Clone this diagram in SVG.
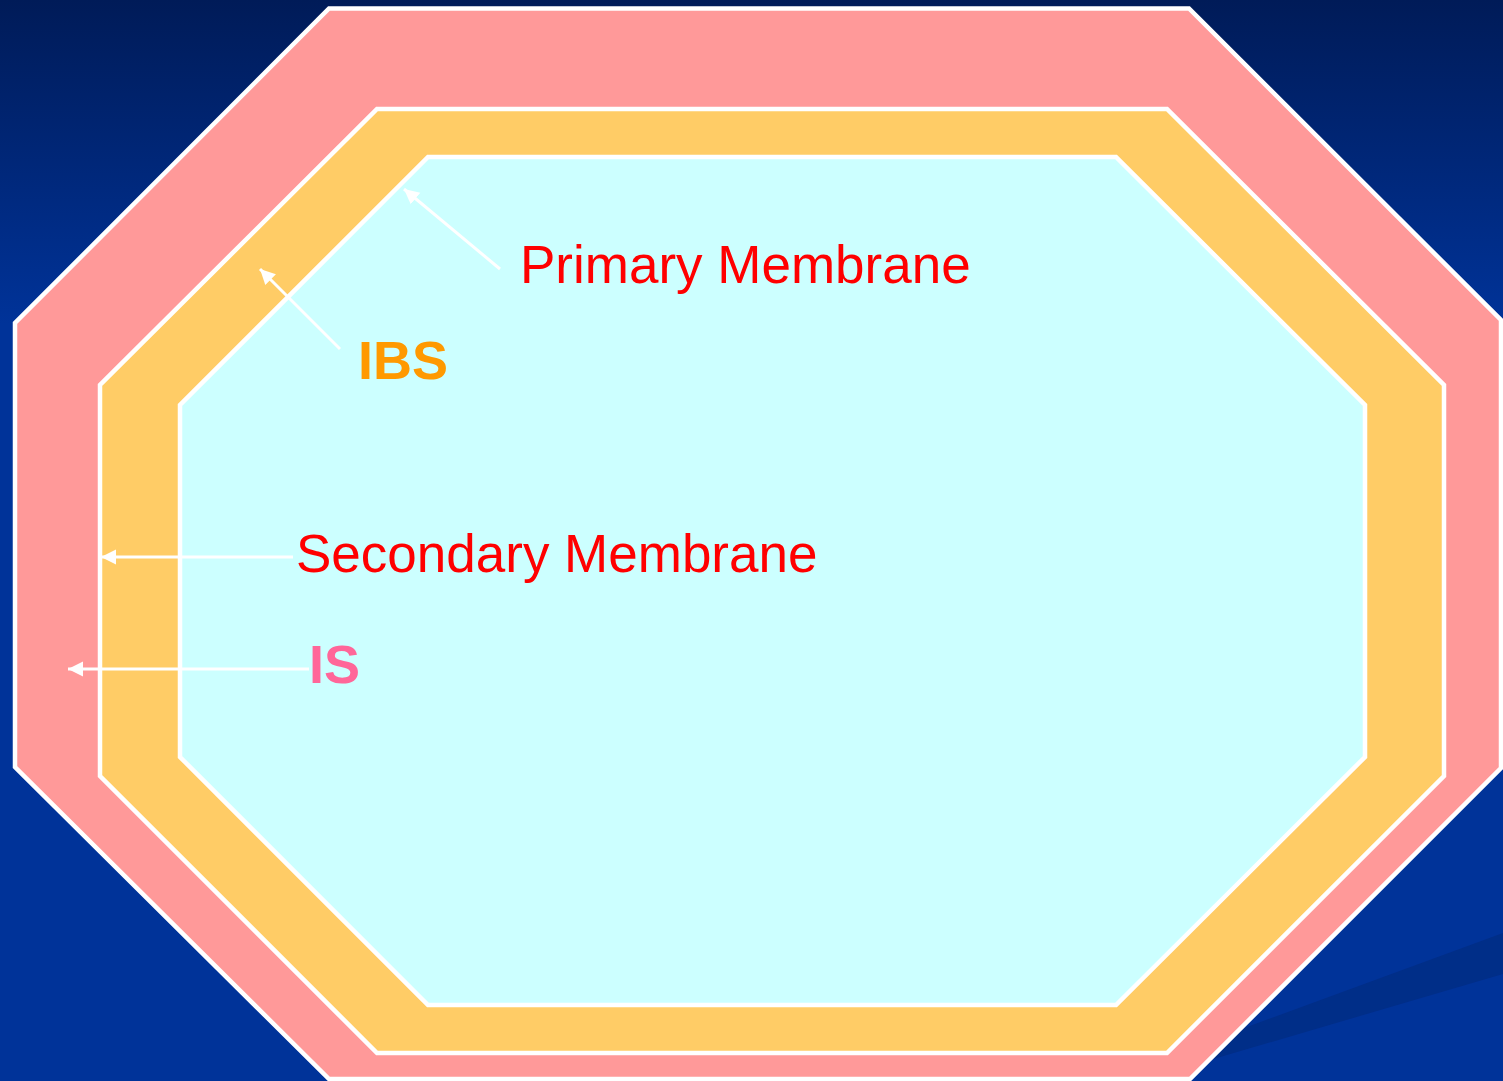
<svg xmlns="http://www.w3.org/2000/svg" width="1503" height="1081" viewBox="0 0 1503 1081">
  <defs>
    <linearGradient id="bg" x1="0" y1="0" x2="0" y2="1081" gradientUnits="userSpaceOnUse">
      <stop offset="0" stop-color="#001B58"/>
      <stop offset="0.3" stop-color="#003399"/>
      <stop offset="1" stop-color="#003399"/>
    </linearGradient>
    <marker id="ah" markerUnits="userSpaceOnUse" markerWidth="16" markerHeight="16" viewBox="0 0 16 16" refX="15" refY="8" orient="auto">
      <path d="M0,0.5 L15,8 L0,15.5 Z" fill="#FFFFFF"/>
    </marker>
    <style>
      .oct { stroke: #FFFFFF; stroke-width: 4.5; stroke-linejoin: miter; }
      .conn { stroke: #FFFFFF; stroke-width: 3; fill: none; marker-end: url(#ah); }
      .lbl { font-family: "Liberation Sans", Arial, sans-serif; font-size: 53px; }
      .bold { font-weight: bold; font-size: 54px; }
    </style>
  </defs>
  <rect x="0" y="0" width="1503" height="1081" fill="url(#bg)"/>
  <polygon points="1503,933 1503,974 1210,1060 1150,1081 1100,1081" fill="#002E88"/>

  <g id="outer-layer">
    <polygon class="oct" fill="#FF9999" points="329,8.5 1189,8.5 1501,320 1501,768 1190,1079 329,1079 15,767 15,323"/>
  </g>
  <g id="middle-layer">
    <polygon class="oct" fill="#FFCC66" points="377,109 1167,109 1444,385 1444,776 1167,1053 377,1053 100,776 100,385"/>
  </g>
  <g id="inner-layer">
    <polygon class="oct" fill="#CCFFFF" points="428,157 1116,157 1365,405 1365,757 1116,1005 428,1005 180,757 180,405"/>
  </g>

  <g id="connectors">
    <line class="conn" x1="500" y1="269" x2="404" y2="189"/>
    <line class="conn" x1="340" y1="349" x2="260" y2="269"/>
    <line class="conn" x1="293" y1="557" x2="101" y2="557"/>
    <line class="conn" x1="309" y1="669" x2="68" y2="669"/>
  </g>

  <g id="label-primary">
    <text class="lbl" x="520" y="283" fill="#FF0000">Primary Membrane</text>
  </g>
  <g id="label-ibs">
    <text class="lbl bold" x="358" y="379" fill="#FF9900">IBS</text>
  </g>
  <g id="label-secondary">
    <text class="lbl" x="296" y="572" fill="#FF0000">Secondary Membrane</text>
  </g>
  <g id="label-is">
    <text class="lbl bold" x="309" y="683" fill="#FF6699">IS</text>
  </g>
</svg>
